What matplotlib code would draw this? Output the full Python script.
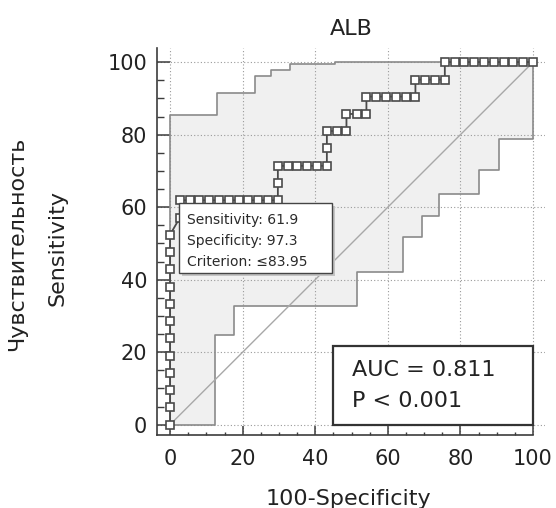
import matplotlib
matplotlib.use("Agg")
import matplotlib.pyplot as plt
from matplotlib.patches import Rectangle
from matplotlib.ticker import MultipleLocator

# ROC curve points (100-Specificity, Sensitivity)
roc_fpr = [0, 0, 0, 0, 0, 0, 0, 0, 0, 0, 0, 0,
           2.7, 2.7, 5.4, 8.1, 10.8, 13.5, 16.2, 18.9, 21.6, 24.3, 27.0, 29.7,
           29.7, 29.7, 32.4, 35.1, 37.8, 40.5, 43.2,
           43.2, 43.2, 45.9, 48.6,
           48.6, 51.4, 54.1,
           54.1, 56.8, 59.5, 62.2, 64.9, 67.6,
           67.6, 70.3, 73.0, 75.7,
           75.7, 78.4, 81.1, 83.8, 86.5, 89.2, 91.9, 94.6, 97.3, 100]
roc_sens = [0, 4.8, 9.5, 14.3, 19.0, 23.8, 28.6, 33.3, 38.1, 42.9, 47.6, 52.4,
            57.1, 61.9, 61.9, 61.9, 61.9, 61.9, 61.9, 61.9, 61.9, 61.9, 61.9, 61.9,
            66.7, 71.4, 71.4, 71.4, 71.4, 71.4, 71.4,
            76.2, 81.0, 81.0, 81.0,
            85.7, 85.7, 85.7,
            90.5, 90.5, 90.5, 90.5, 90.5, 90.5,
            95.2, 95.2, 95.2, 95.2,
            100, 100, 100, 100, 100, 100, 100, 100, 100, 100]

# confidence bounds (step curves)
upper_x = [0, 12.8, 23.4, 27.9, 33.0, 45.4, 100]
upper_y = [85.4, 91.4, 96.1, 97.8, 99.4, 100, 100]
lower_x = [0, 12.4, 17.5, 51.4, 64.3, 69.3, 74.1, 85.0, 90.5, 100]
lower_y = [0, 24.7, 32.7, 42.2, 51.8, 57.6, 63.5, 70.2, 78.7, 100]

x_ticks = [0, 20, 40, 60, 80, 100]
y_ticks = [0, 20, 40, 60, 80, 100]

box_lines = ["Sensitivity: 61.9", "Specificity: 97.3", "Criterion: \u226483.95"]
auc_lines = ["AUC = 0.811", "P < 0.001"]


def steps(xs, ys):
    vx, vy = [xs[0]], [ys[0]]
    for i in range(1, len(xs)):
        vx += [xs[i], xs[i]]
        vy += [ys[i - 1], ys[i]]
    return vx, vy


dark = "#3c3c3c"
fig = plt.figure(figsize=(5.56, 5.08), dpi=100)
ax = fig.add_axes([157 / 556, 73 / 508, 388 / 556, 387 / 508])
ax.set_xlim(-3.6, 103.3)
ax.set_ylim(-2.85, 103.9)

# confidence band
ux, uy = steps(upper_x, upper_y)
lx, ly = steps(lower_x, lower_y)
ax.fill(ux + lx[::-1], uy + ly[::-1], color="#f0f0f0", lw=0, zorder=0.2)
ax.plot([0] + ux, [0] + uy, color="#8a8a8a", lw=1.2, zorder=2)
ax.plot(lx, ly, color="#8a8a8a", lw=1.2, zorder=2)

# diagonal
ax.plot([0, 100], [0, 100], color="#a8a8a8", lw=1.0, zorder=2)

# ROC curve
ax.plot(roc_fpr, roc_sens, color="#4a4a4a", lw=1.3, marker="s", ms=6.2,
        mfc="white", mec="#4a4a4a", mew=1.2, zorder=4, clip_on=False)

# criterion box with shadow
ax.add_patch(Rectangle((3.4, 40.9), 42.1, 19.3, facecolor="#c4c4c4",
                       edgecolor="none", zorder=5))
ax.add_patch(Rectangle((2.5, 41.8), 42.1, 19.3, facecolor="white",
                       edgecolor="#444444", lw=1.0, zorder=6))
for txt, yb in zip(box_lines, [55.3, 49.5, 43.8]):
    ax.text(4.6, yb, txt, fontsize=10, color="#2a2a2a", va="baseline",
            zorder=7)

# AUC box
ax.add_patch(Rectangle((45.0, 0), 54.9, 21.7, facecolor="white",
                       edgecolor="#333333", lw=1.6, zorder=6))
for txt, yb in zip(auc_lines, [13.3, 5.0]):
    ax.text(50.0, yb, txt, fontsize=16, color="#222222", va="baseline",
            zorder=7)

# axes styling
for s in ["top", "right"]:
    ax.spines[s].set_visible(False)
ax.spines["left"].set_color(dark)
ax.spines["bottom"].set_color(dark)
ax.spines["left"].set_linewidth(1.2)
ax.spines["bottom"].set_linewidth(1.2)
ax.spines["bottom"].set_bounds(-3.6, 100)

ax.set_xticks(x_ticks)
ax.set_yticks(y_ticks)
ax.xaxis.set_minor_locator(MultipleLocator(5))
ax.yaxis.set_minor_locator(MultipleLocator(5))
ax.tick_params(axis="x", which="major", direction="in", length=6.5, width=1.1,
               color=dark, labelsize=15, pad=10, labelcolor="#222222")
ax.tick_params(axis="x", which="minor", direction="in", length=2.5, width=1.0,
               color=dark)
ax.tick_params(axis="y", which="major", direction="in", length=9.5, width=1.1,
               color=dark, labelsize=15, pad=7, labelcolor="#222222")
ax.tick_params(axis="y", which="minor", direction="in", length=5, width=1.0,
               color=dark)
ax.grid(True, which="major", linestyle=(0, (1, 2)), color="#9a9a9a", lw=0.8)
ax.set_axisbelow(True)

fig.text(351.5 / 556, 1 - 35 / 508, "ALB", fontsize=16, ha="center",
         va="baseline", color="#222222")
fig.text(348 / 556, 1 - 505 / 508, "100-Specificity", fontsize=16,
         ha="center", va="baseline", color="#222222")
fig.text(17 / 556, 1 - 244 / 508, "Чувствительность", fontsize=16,
         rotation=90, ha="center", va="center", color="#222222")
fig.text(57.5 / 556, 1 - 248 / 508, "Sensitivity", fontsize=16,
         rotation=90, ha="center", va="center", color="#222222")

fig.savefig("out.png", dpi=100)
